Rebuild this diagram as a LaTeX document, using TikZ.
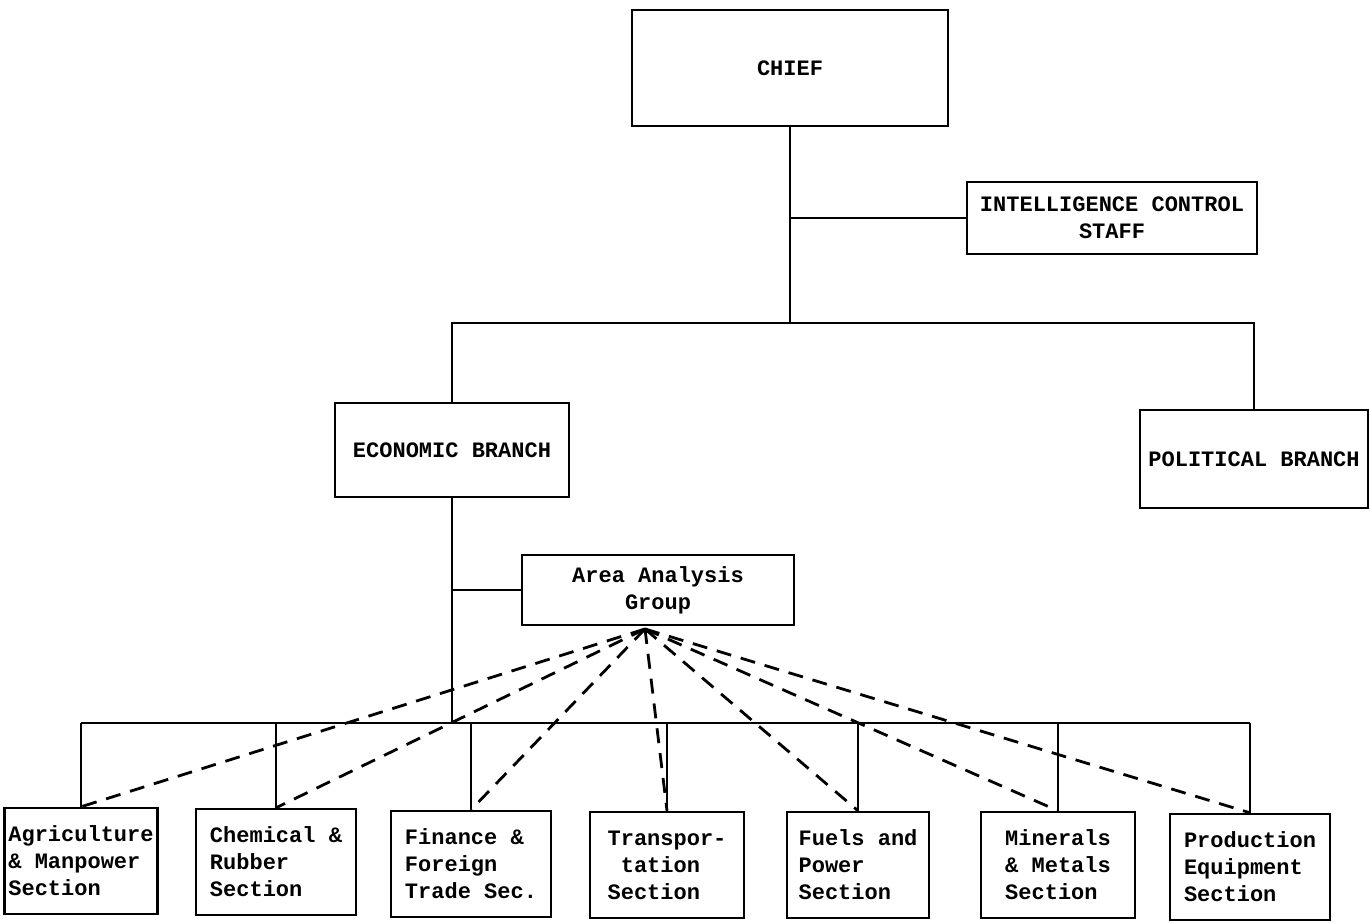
\documentclass[tikz,border=0pt]{standalone}
\usepackage{fontspec}
\setmainfont{Liberation Mono}

\begin{document}
\begin{tikzpicture}[x=0.5pt,y=-0.5pt,
	box/.style={draw,line width=1.2pt,font=\bfseries\fontsize{11}{13.5}\selectfont,align=center,inner sep=2pt},
	sec/.style={box,align=left,minimum width=#1,minimum height=53pt},
	link/.style={line width=1.4pt},
	dashlink/.style={line width=1.4pt,dash pattern=on 7.5pt off 5pt}]
\useasboundingbox (0,0) rectangle (1369,924);
\node[box,minimum width=158pt,minimum height=58pt] (chief) at (790,68) {CHIEF};
\node[box,minimum width=145pt,minimum height=36pt] (ics) at (1112,218) {INTELLIGENCE CONTROL\\STAFF};
\node[box,minimum width=117pt,minimum height=47pt] (econ) at (452,450) {ECONOMIC BRANCH};
\node[box,minimum width=114pt,minimum height=49pt] (pol) at (1254,459) {POLITICAL BRANCH};
\node[box,minimum width=136pt,minimum height=35pt] (aag) at (658,590) {Area Analysis\\Group};
\node[sec=76pt] (agr) at (81,861) {Agriculture\\\& Manpower\\Section};
\node[sec=80pt] (chem) at (276,862) {Chemical \&\\Rubber\\Section};
\node[sec=80pt] (fin) at (471,864) {Finance \&\\Foreign\\Trade Sec.};
\node[sec=77pt] (trans) at (667,865) {Transpor-\\~tation\\Section};
\node[sec=71pt] (fuel) at (858,865) {Fuels and\\Power\\Section};
\node[sec=77pt] (minr) at (1058,865) {Minerals\\\& Metals\\Section};
\node[sec=80pt] (prod) at (1250,867) {Production\\Equipment\\Section};
\coordinate (top) at (790,323);
\coordinate (bus) at (452,723);
\coordinate (fan) at (645,629);
\draw[link] (chief.south) -- (top);
\draw[link] (chief.south |- ics.west) -- (ics.west);
\draw[link] (econ.north) |- (top) -| (pol.north);
\draw[link] (econ.south) -- (econ.south |- bus);
\draw[link] (econ.south |- aag.west) -- (aag.west);
\draw[link] (agr.north |- bus) -- (prod.north |- bus);
\foreach \s in {agr,chem,fin,trans,fuel,minr,prod}
	{ \draw[link] (\s.north |- bus) -- (\s.north);
	  \draw[dashlink] (fan) -- (\s.north); }
\end{tikzpicture}
\end{document}
